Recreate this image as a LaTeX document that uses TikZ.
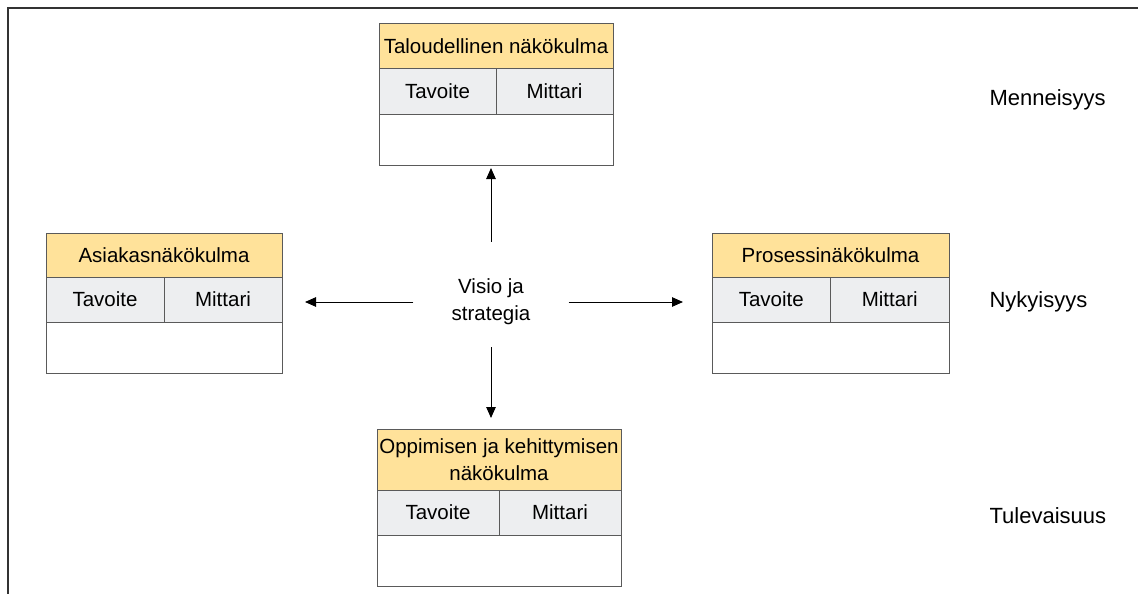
\documentclass[tikz,border=0pt]{standalone}
\usepackage{fontspec}
\setmainfont{Liberation Sans}
\usetikzlibrary{arrows.meta, positioning}
\definecolor{headfill}{HTML}{FFE29A}
\definecolor{cellfill}{HTML}{EDEEF0}
\definecolor{boxline}{HTML}{5A5A5A}
\definecolor{frameline}{HTML}{333333}
\tikzstyle{every node}=[font=\fontsize{20.5}{27}\selectfont]
\tikzstyle{head}=[draw=boxline,fill=headfill,rectangle,anchor=north west,align=center,inner sep=2pt,outer sep=0pt,line width=1pt]
\tikzstyle{cell}=[draw=boxline,fill=cellfill,rectangle,anchor=north west,minimum height=45pt,inner sep=0pt,outer sep=0pt,line width=1pt]
\tikzstyle{body}=[draw=boxline,fill=white,rectangle,anchor=north west,minimum height=51pt,inner sep=0pt,outer sep=0pt,line width=1pt]
\tikzstyle{era}=[anchor=west,font=\fontsize{22}{26}\selectfont]
% name, top left corner, width, header height, title
\newcommand{\panel}[5]{%
  \node[head, minimum width=#3pt, minimum height=#4pt] (#1) at #2 {#5};
  \node[cell, minimum width=#3pt/2] (#1-goal) at (#1.south west) {Tavoite};
  \node[cell, minimum width=#3pt/2] (#1-meas) at (#1-goal.north east) {Mittari};
  \node[body, minimum width=#3pt] (#1-body) at (#1-goal.south west) {};
}

\begin{document}
\begin{tikzpicture}[x=1pt,y=-1pt,arr/.style={-{Triangle[length=11pt,width=9.5pt]},line width=1pt,black}]
  \useasboundingbox (0,0) rectangle (1138,594);
  \draw[frameline,line width=1.2pt] (8,594) -- (8,8) -- (1138,8);

  \panel{fin}{(379,24)}{234}{45}{Taloudellinen näkökulma}
  \panel{cust}{(46,233)}{236}{44}{Asiakasnäkökulma}
  \panel{prc}{(712,233)}{237}{44}{Prosessinäkökulma}
  \panel{lrn}{(377,429)}{244}{61}{Oppimisen ja kehittymisen\\näkökulma}

  \node[align=center,inner xsep=38pt,inner ysep=22pt] (vision) at (491,302) {Visio ja\\strategia};

  \node[era] (past) at (986,100) {Menneisyys};
  \node[era] (now) at (986,302) {Nykyisyys};
  \node[era] (future) at (986,516) {Tulevaisuus};

  \draw[arr,shorten <=15pt,shorten >=3pt] (vision.north) -- (vision.north |- fin-body.south);
  \draw[arr,shorten >=11pt] (vision.south) -- (vision.south |- lrn.north);
  \draw[arr,shorten >=23pt] (vision.west) -- (vision.west -| cust-meas.east);
  \draw[arr,shorten >=29pt] (vision.east) -- (vision.east -| prc-goal.west);
\end{tikzpicture}
\end{document}
